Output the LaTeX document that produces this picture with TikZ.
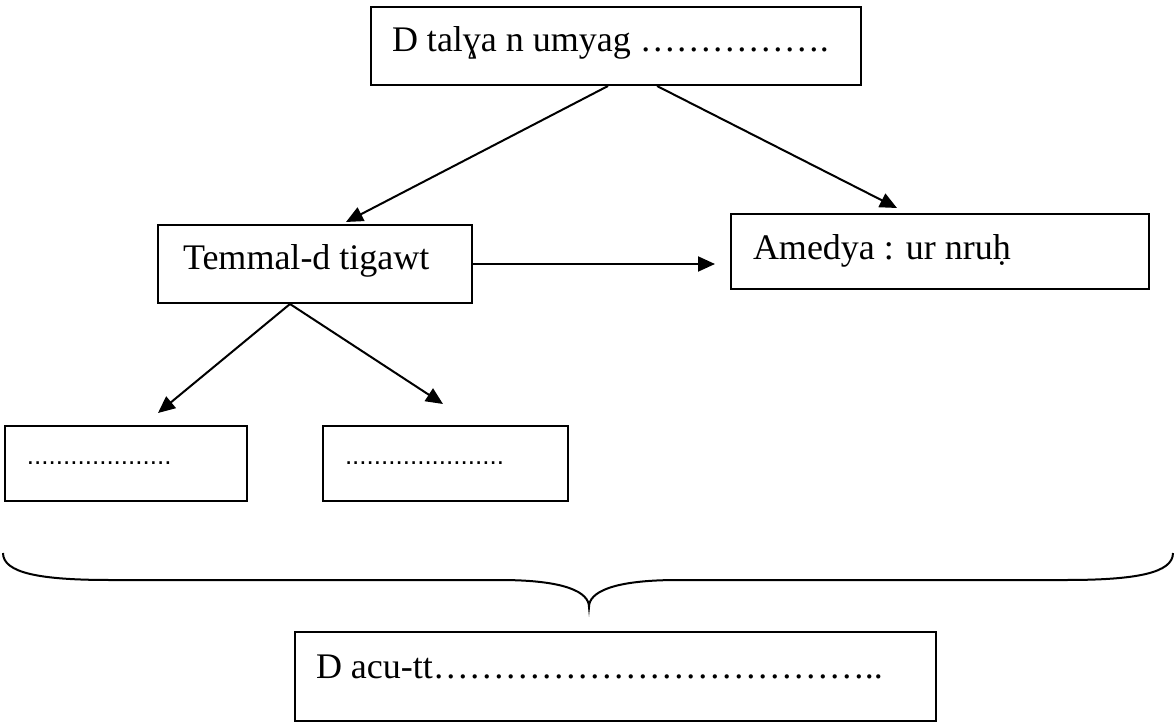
\documentclass[tikz,border=0pt]{standalone}
\usepackage{fontspec}
\setmainfont{Liberation Serif}
\newfontfamily\dotfont{Liberation Sans}
\usetikzlibrary{arrows.meta,calc}
\newcommand{\inbox}[2]{\makebox[#1][l]{#2}}
\begin{document}
\begin{tikzpicture}[x=1pt,y=-1pt,
  box/.style={draw,line width=2pt,inner ysep=0pt,anchor=north west,font=\fontsize{36}{40}\selectfont},
  tall/.style={text height=45pt,text depth=33pt},
  small/.style={text height=38pt,text depth=37pt,font=\dotfont\fontsize{26}{30}\selectfont},
  arr/.style={line width=2pt,-{Triangle[length=17pt,width=15pt]}},
  bracestyle/.style={line width=2pt}]
\useasboundingbox (0,0) rectangle (1176,722);
\node[box,tall,inner xsep=21pt] (top) at (370,6) {\inbox{448pt}{D talɣa n umyag …………….}};
\node[box,tall,inner xsep=25pt] (tem) at (157,224) {\inbox{264pt}{Temmal-d tigawt}};
\node[box,text height=46pt,text depth=29pt,inner xsep=22pt] (ame) at (730,213) {\inbox{374pt}{Amedya : ur nruḥ}};
\node[box,small,inner xsep=22pt] (b1) at (4,425) {\inbox{198pt}{....................}};
\node[box,small,inner xsep=22pt] (b2) at (322,425) {\inbox{201pt}{......................}};
\node[box,text height=46pt,text depth=43pt,inner xsep=21pt] (bot) at (294,631) {\inbox{599pt}{D acu-tt………………………………..}};
\draw[arr] ([xshift=238pt]top.south west) -- ([xshift=189pt,yshift=2pt]tem.north west);
\draw[arr] ([xshift=287pt]top.south west) -- ([xshift=167pt,yshift=5pt]ame.north west);
\draw[arr] (tem.east) -- ([xshift=-15pt]tem.east -| ame.west);
\draw[arr] ([xshift=133pt]tem.south west) -- ([xshift=154pt,yshift=12pt]b1.north west);
\draw[arr] ([xshift=133pt]tem.south west) -- ([xshift=121pt,yshift=21pt]b2.north west);
\coordinate (brL) at (3,553);
\coordinate (brM) at (589,607);
\coordinate (brR) at (1173,553);
\draw[bracestyle] (brL) .. controls (3,573) and (40,580) .. (110,580) -- (500,580)
  .. controls (565,580) and (589,592) .. (brM)
  .. controls (589,592) and (613,580) .. (678,580) -- (1066,580)
  .. controls (1136,580) and (1173,573) .. (brR);
\end{tikzpicture}
\end{document}
